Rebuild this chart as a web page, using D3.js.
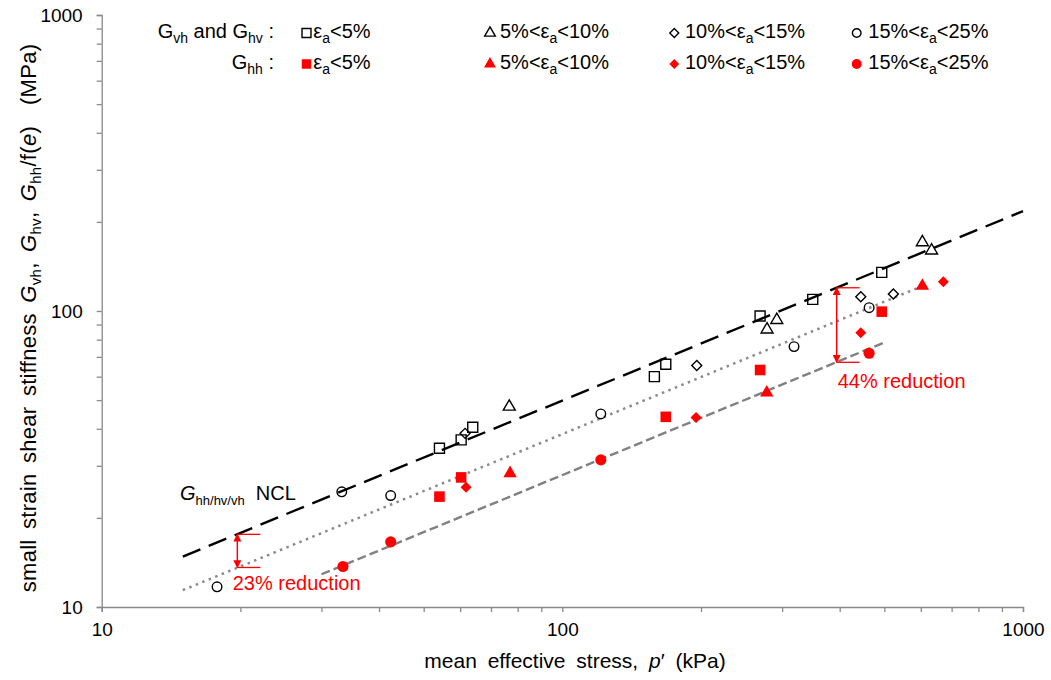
<!DOCTYPE html>
<html>
<head>
<meta charset="utf-8">
<script src="https://cdn.jsdelivr.net/npm/d3@7"></script>
<style>
  html, body { margin: 0; padding: 0; background: #fff; }
  svg { display: block; font-family: "Liberation Sans", Arial, sans-serif; }
  text { white-space: pre; }
</style>
</head>
<body>
<svg id="chart" width="1051" height="680"></svg>
<script>
// ---- data: [p' (kPa), G (MPa)] ----
// G_vh and G_hv (open symbols)
const gvhLt5    = [[54.1,34.4],[60.3,36.7],[63.9,40.5],[158.4,60.0],[167.7,66.1],[268.7,96.2],[349.6,109.5],[493.6,135.1]];
const gvh5to10  = [[76.7,47.5],[278.2,86.6],[292.1,93.2],[604.7,170.7],[633.2,160.1]];
const gvh10to15 = [[61.5,38.6],[195.8,65.4],[444.5,111.8],[523.1,114.1]];
const gvh15to25 = [[17.8,11.7],[33.2,24.5],[42.4,23.8],[121.2,44.9],[318.4,75.8],[463.4,102.6]];
// G_hh / f(e) (filled symbols)
const ghhLt5    = [[54.1,23.6],[60.3,27.4],[167.7,43.9],[268.7,63.2],[493.6,99.5]];
const ghh5to10  = [[77.0,28.3],[277.8,53.0],[604.7,121.5]];
const ghh10to15 = [[61.8,25.4],[195.1,43.7],[444.5,84.5],[671.6,125.6]];
const ghh15to25 = [[33.4,13.7],[42.4,16.6],[121.2,31.4],[463.4,72.0]];

// reference lines (end points)
const nclLine   = [[15,14.8],[1000,217.5]];
const ncl77Line = [[15,11.4],[600,120.8]];
const ncl56Line = [[30,12.9],[500,78.3]];

// reduction arrows: p', G at NCL, G reduced
const reductionP      = [19.7, 394];
const reductionTop    = [17.6, 119.8];
const reductionBottom = [13.6, 67.1];
const reductionLabels = ["23% reduction", "44% reduction"];

// axes
const xTicks = [10,20,30,40,50,60,70,80,90,100,200,300,400,500,600,700,800,900,1000];
const yTicks = [10,20,30,40,50,60,70,80,90,100,200,300,400,500,600,700,800,900,1000];
const tickLabels = [10, 100, 1000];

// legend
const strainLabels = [
  [{t:"ε"},{t:"a",sub:true},{t:"<5%"}],
  [{t:"5%<ε"},{t:"a",sub:true},{t:"<10%"}],
  [{t:"10%<ε"},{t:"a",sub:true},{t:"<15%"}],
  [{t:"15%<ε"},{t:"a",sub:true},{t:"<25%"}]
];

// ---- layout ----
const svg = d3.select("#chart");
const plotLeft = 101.7, plotRight = 1023, plotTop = 15, plotBottom = 607;
const x = d3.scaleLog().domain([10, 1000]).range([plotLeft, plotRight]);
const y = d3.scaleLog().domain([10, 1000]).range([plotBottom, plotTop]);
const axisGrey = "#898989";
const red = "#ff0000";

// rich text helper: segments with italic / subscript parts
function rich(sel, segs, subSize, subShift) {
  let shifted = false;
  segs.forEach(s => {
    const ts = sel.append("tspan").text(s.t);
    if (s.i) ts.attr("font-style", "italic");
    if (s.sub) {
      ts.attr("font-size", subSize).attr("dy", subShift);
      shifted = true;
    } else if (shifted) {
      ts.attr("dy", -subShift);
      shifted = false;
    }
  });
  return sel;
}

// ---- axes ----
const xAxis = d3.axisBottom(x).tickValues(xTicks).tickSize(5).tickPadding(11)
  .tickFormat(d => tickLabels.includes(d) ? String(d) : "");
const yAxis = d3.axisLeft(y).tickValues(yTicks).tickSize(5).tickPadding(14)
  .tickFormat(d => tickLabels.includes(d) ? String(d) : "");

const gx = svg.append("g").attr("transform", `translate(0,${plotBottom})`).call(xAxis);
const gy = svg.append("g").attr("transform", `translate(${plotLeft},0)`).call(yAxis);
[gx, gy].forEach(g => {
  g.select(".domain").attr("stroke", axisGrey).attr("stroke-width", 1.3);
  g.selectAll(".tick line").attr("stroke", axisGrey).attr("stroke-width", 1.3);
  g.selectAll(".tick text").attr("fill", "#000").attr("font-size", 19)
    .attr("font-family", "'Liberation Sans', Arial, sans-serif");
});

// axis titles
rich(svg.append("text").attr("x", 575).attr("y", 668).attr("text-anchor", "middle")
  .attr("font-size", 21).attr("word-spacing", 5).attr("fill", "#000"),
  [{t:"mean effective stress, "},{t:"p",i:true},{t:"′ (kPa)"}], 15, 5);

rich(svg.append("text").attr("transform", "translate(36,318) rotate(-90)")
  .attr("text-anchor", "middle").attr("font-size", 22).attr("word-spacing", 4)
  .attr("letter-spacing", 0.3).attr("fill", "#000"),
  [{t:"small strain shear stiffness "},{t:"G",i:true},{t:"vh",sub:true},{t:", "},
   {t:"G",i:true},{t:"hv",sub:true},{t:", "},{t:"G",i:true},{t:"hh",sub:true},
   {t:"/f("},{t:"e",i:true},{t:")  (MPa)"}], 15, 5);

// ---- reference lines ----
const line = d3.line().x(d => x(d[0])).y(d => y(d[1]));
svg.append("path").datum(nclLine).attr("d", line).attr("fill", "none")
  .attr("stroke", "#000").attr("stroke-width", 2.4).attr("stroke-dasharray", "19,9");
svg.append("path").datum(ncl77Line).attr("d", line).attr("fill", "none")
  .attr("stroke", "#8a8a8a").attr("stroke-width", 2.5).attr("stroke-dasharray", "2.5,4.5");
svg.append("path").datum(ncl56Line).attr("d", line).attr("fill", "none")
  .attr("stroke", "#808080").attr("stroke-width", 2.4).attr("stroke-dasharray", "9,4");

// ---- markers ----
const shapes = {
  square:   {type: d3.symbolSquare,   size: 100, rot: 0},
  triangle: {type: d3.symbolTriangle, size: 62,  rot: 0},
  diamond:  {type: d3.symbolSquare,   size: 50,  rot: 45},
  circle:   {type: d3.symbolCircle,   size: 72,  rot: 0}
};
const filledScale = {square: 1.12, triangle: 1.25, diamond: 1.2, circle: 1.35};
const series = [
  {data: gvhLt5,    shape: "square",   filled: false},
  {data: gvh5to10,  shape: "triangle", filled: false},
  {data: gvh10to15, shape: "diamond",  filled: false},
  {data: gvh15to25, shape: "circle",   filled: false},
  {data: ghhLt5,    shape: "square",   filled: true},
  {data: ghh5to10,  shape: "triangle", filled: true},
  {data: ghh10to15, shape: "diamond",  filled: true},
  {data: ghh15to25, shape: "circle",   filled: true}
];
function drawSymbol(g, shape, filled, cx, cy, scale) {
  const s = shapes[shape];
  const size = s.size * (filled ? filledScale[shape] : 1) * scale;
  g.append("path")
    .attr("d", d3.symbol().type(s.type).size(size)())
    .attr("transform", `translate(${cx},${cy}) rotate(${s.rot})`)
    .attr("fill", filled ? red : "none")
    .attr("stroke", filled ? "none" : "#000")
    .attr("stroke-width", 1.4);
}
const gm = svg.append("g");
series.forEach(sr => sr.data.forEach(d => drawSymbol(gm, sr.shape, sr.filled, x(d[0]), y(d[1]), 1)));

// ---- reduction arrows ----
const defs = svg.append("defs");
defs.append("marker").attr("id", "ahead").attr("viewBox", "0 0 10 10")
  .attr("refX", 9).attr("refY", 5).attr("markerWidth", 8).attr("markerHeight", 8)
  .attr("markerUnits", "userSpaceOnUse").attr("orient", "auto-start-reverse")
  .append("path").attr("d", "M0,0 L10,5 L0,10 z").attr("fill", red);

const labelOffset = [[-4.6, 23], [1, 26]];
reductionP.forEach((p, i) => {
  const ax = x(p), yt = y(reductionTop[i]), yb = y(reductionBottom[i]);
  svg.append("line").attr("x1", ax).attr("x2", ax).attr("y1", yt).attr("y2", yb)
    .attr("stroke", red).attr("stroke-width", 1.5)
    .attr("marker-start", "url(#ahead)").attr("marker-end", "url(#ahead)");
  [yt, yb].forEach(yy => svg.append("line").attr("x1", ax).attr("x2", ax + 23)
    .attr("y1", yy).attr("y2", yy).attr("stroke", red).attr("stroke-width", 1.3));
  svg.append("text").attr("x", ax + labelOffset[i][0]).attr("y", yb + labelOffset[i][1])
    .attr("font-size", 20).attr("fill", red).text(reductionLabels[i]);
});

// NCL label
rich(svg.append("text").attr("x", 180).attr("y", 500).attr("font-size", 20).attr("fill", "#000"),
  [{t:"G",i:true},{t:"hh/hv/vh",sub:true},{t:"  NCL"}], 13, 5);

// ---- legend ----
const legRowY = [38, 69];
const legMarkX = [306.5, 490, 674.3, 856.7];
const legTextX = [313.3, 500, 685, 868.3];
const legShapes = ["square", "triangle", "diamond", "circle"];
rich(svg.append("text").attr("x", 274).attr("y", legRowY[0]).attr("text-anchor", "end")
  .attr("font-size", 20).attr("fill", "#000"),
  [{t:"G"},{t:"vh",sub:true},{t:" and G"},{t:"hv",sub:true},{t:" :"}], 14, 5);
rich(svg.append("text").attr("x", 274).attr("y", legRowY[1]).attr("text-anchor", "end")
  .attr("font-size", 20).attr("fill", "#000"),
  [{t:"G"},{t:"hh",sub:true},{t:" :"}], 14, 5);
[false, true].forEach((filled, r) => {
  legShapes.forEach((sh, k) => {
    drawSymbol(svg, sh, filled, legMarkX[k], legRowY[r] - 5, 0.8);
    rich(svg.append("text").attr("x", legTextX[k]).attr("y", legRowY[r])
      .attr("font-size", 20).attr("fill", "#000"), strainLabels[k], 14, 5);
  });
});
</script>
</body>
</html>
